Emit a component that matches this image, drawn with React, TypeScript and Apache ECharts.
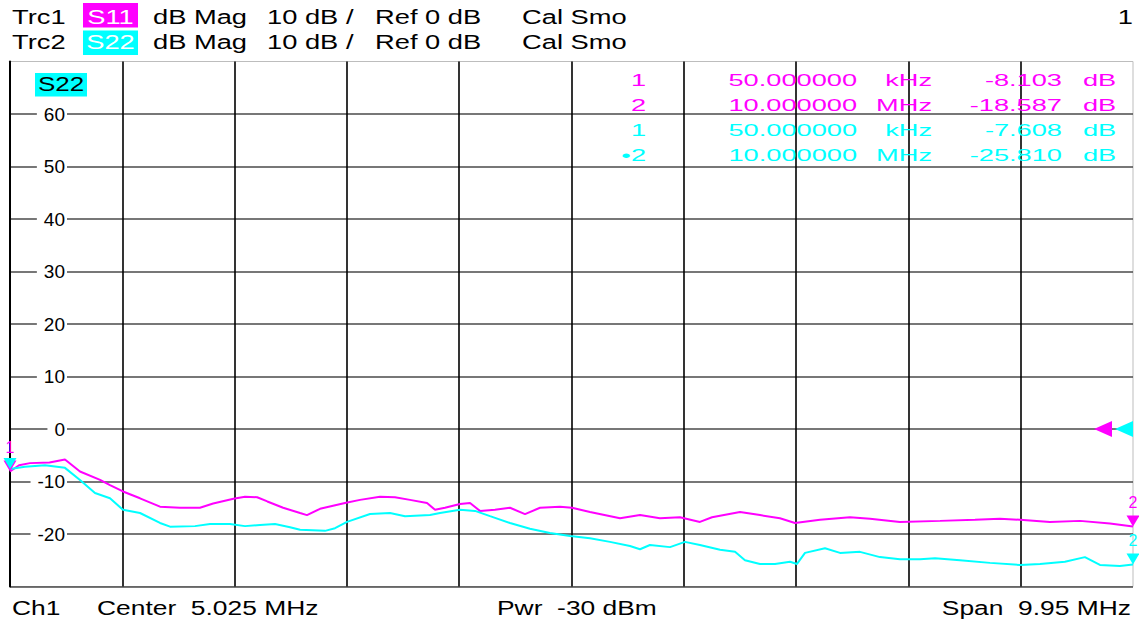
import React, { useEffect, useRef } from 'react';
import * as echarts from 'echarts';

const FONT = '"Liberation Sans", Arial, sans-serif';
const MAGENTA = '#ff00ff';
const CYAN = '#00ffff';

// Frequency axis (MHz) and level axis (dB)
const FREQ_MIN = 0.05;
const FREQ_MAX = 10;
const DB_MIN = -30;
const DB_MAX = 70;
const DB_STEP = 10;
const DIVISIONS = 10;

// Trace values: [frequency MHz, level dB]
const s11Trace: number[][] = [
  [0.05, -8.1], [0.13, -6.9], [0.227, -6.5], [0.4, -6.4], [0.537, -5.8], [0.67, -8.1], [0.848, -9.7],
  [0.936, -10.7], [1.051, -11.9], [1.202, -13.2], [1.379, -14.8], [1.556, -15], [1.733, -15],
  [1.85, -14.2], [2.03, -13.3], [2.132, -12.9], [2.24, -13], [2.33, -13.8], [2.47, -15],
  [2.62, -16], [2.681, -16.4], [2.797, -15.2], [3.018, -14.1], [3.151, -13.5], [3.328, -12.9],
  [3.461, -13], [3.594, -13.5], [3.745, -14.1], [3.816, -15.4], [3.904, -15], [4.037, -14.3],
  [4.126, -14.1], [4.214, -15.6], [4.347, -15.4], [4.48, -15], [4.613, -16.2], [4.746, -15],
  [4.923, -14.8], [5.029, -15], [5.189, -15.8], [5.455, -17], [5.632, -16.4], [5.809, -17],
  [5.986, -16.8], [6.163, -17.7], [6.27, -16.8], [6.518, -15.8], [6.695, -16.4], [6.872, -17],
  [7.005, -17.9], [7.227, -17.3], [7.492, -16.8], [7.67, -17.1], [7.935, -17.7], [8.29, -17.5],
  [8.6, -17.3], [8.821, -17.1], [8.999, -17.3], [9.264, -17.7], [9.53, -17.5], [9.796, -18],
  [10, -18.587],
];

const s22Trace: number[][] = [
  [0.05, -7.608], [0.183, -7.2], [0.36, -6.9], [0.537, -7.4], [0.67, -9.7], [0.803, -12.2],
  [0.936, -13.2], [1.051, -15.4], [1.202, -16], [1.379, -17.9], [1.468, -18.6], [1.689, -18.5],
  [1.822, -18.1], [1.999, -18.1], [2.132, -18.5], [2.265, -18.3], [2.398, -18.1], [2.531, -18.7],
  [2.62, -19.2], [2.841, -19.4], [2.93, -18.9], [3.036, -17.7], [3.24, -16.2], [3.417, -16],
  [3.55, -16.6], [3.771, -16.4], [3.86, -16], [4.037, -15.4], [4.17, -15.6], [4.303, -16.6],
  [4.48, -17.9], [4.657, -19], [4.834, -19.8], [5.012, -20.4], [5.189, -20.8], [5.366, -21.5],
  [5.543, -22.3], [5.632, -22.9], [5.72, -22.1], [5.898, -22.5], [6.03, -21.5], [6.163, -22.1],
  [6.341, -23], [6.474, -23.4], [6.562, -25], [6.695, -25.7], [6.828, -25.7], [6.961, -25.3],
  [7.023, -25.7], [7.094, -23.6], [7.271, -22.7], [7.404, -23.6], [7.581, -23.4], [7.758, -24.4],
  [7.935, -24.8], [8.113, -24.8], [8.246, -24.6], [8.467, -25], [8.733, -25.5], [8.999, -25.9],
  [9.176, -25.7], [9.397, -25.3], [9.574, -24.4], [9.707, -25.9], [9.884, -26.1], [10, -25.81],
];

// Markers
const markerNames = ['1', '2'];
const markerFreqs = [0.05, 10];
const s11MarkerDb = [-8.103, -18.587];
const s22MarkerDb = [-7.608, -25.81];
const refLevel = 0;

// Header / footer texts
const traceNames = ['Trc1', 'Trc2'];
const paramNames = ['S11', 'S22'];
const traceColors = [MAGENTA, CYAN];
const formatTexts = ['dB Mag', '10 dB /', 'Ref 0 dB', 'Cal Smo'];
const footerTexts = ['Ch1', 'Center  5.025 MHz', 'Pwr  -30 dBm', 'Span  9.95 MHz'];

function fmtFreq(mhz: number) {
  if (mhz < 1) return { v: (mhz * 1000).toFixed(6), u: 'kHz' };
  return { v: mhz.toFixed(6), u: 'MHz' };
}

function txt(x: number, y: number, text: string, size: number, sx: number, fill: string, align = 'left') {
  return {
    type: 'text',
    x,
    y,
    scaleX: sx,
    z: 10,
    style: {
      text,
      font: `${size}px ${FONT}`,
      fill,
      textAlign: align,
      textVerticalAlign: 'middle',
    },
  };
}

export default function App() {
  const ref = useRef<HTMLDivElement>(null);

  useEffect(() => {
    document.body.style.margin = '0';
    if (!ref.current) return;
    const chart = echarts.init(ref.current, undefined, { renderer: 'svg' });

    const graphics: any[] = [];
    // Header rows
    const rowY = [17, 42];
    const boxY = [3, 30.5];
    const chunkX = [153, 267, 375, 522];
    for (let i = 0; i < 2; i++) {
      graphics.push(txt(12, rowY[i], traceNames[i], 21, 1.3, '#000'));
      graphics.push({
        type: 'rect', z: 9,
        shape: { x: 83, y: boxY[i], width: 55, height: 24.5 },
        style: { fill: traceColors[i] },
      });
      graphics.push(txt(110.5, rowY[i], paramNames[i], 21, 1.3, '#fff', 'center'));
      formatTexts.forEach((t, k) => graphics.push(txt(chunkX[k], rowY[i], t, 21, 1.3, '#000')));
    }
    graphics.push(txt(1133, 17, '1', 21, 1.3, '#000', 'right'));

    // Active trace label inside the diagram
    graphics.push({
      type: 'rect', z: 9,
      shape: { x: 35, y: 73, width: 52, height: 23.5 },
      style: { fill: CYAN },
    });
    graphics.push(txt(61, 84.5, paramNames[1], 20, 1.3, '#000', 'center'));

    // Marker table
    const tableRows: { name: string; f: number; db: number; color: string }[] = [];
    markerNames.forEach((n, i) => tableRows.push({ name: n, f: markerFreqs[i], db: s11MarkerDb[i], color: MAGENTA }));
    markerNames.forEach((n, i) => tableRows.push({ name: (i === 1 ? '\u2022' : '') + n, f: markerFreqs[i], db: s22MarkerDb[i], color: CYAN }));
    tableRows.forEach((r, i) => {
      const y = 80 + i * 25;
      const f = fmtFreq(r.f);
      graphics.push(txt(646, y, r.name, 17, 1.6, r.color, 'right'));
      graphics.push(txt(857, y, f.v, 17, 1.6, r.color, 'right'));
      graphics.push(txt(932, y, f.u, 17, 1.6, r.color, 'right'));
      graphics.push(txt(1062, y, r.db.toFixed(3), 17, 1.6, r.color, 'right'));
      graphics.push(txt(1083, y, 'dB', 17, 1.6, r.color, 'left'));
    });

    // Footer
    graphics.push(txt(12, 608, footerTexts[0], 20, 1.32, '#000'));
    graphics.push(txt(97, 608, footerTexts[1], 20, 1.32, '#000'));
    graphics.push(txt(497, 608, footerTexts[2], 20, 1.32, '#000'));
    graphics.push(txt(1131, 608, footerTexts[3], 20, 1.32, '#000', 'right'));

    const downTri = 'path://M0,0 L12,0 L6,10 Z';
    const leftTri = 'path://M18,0 L18,16 L0,8 Z';

    const markerData = (vals: number[], color: string, showFirstLabel: boolean) =>
      markerNames.map((n, i) => ({
        name: n,
        coord: [markerFreqs[i], vals[i]],
        symbol: downTri,
        symbolSize: [13, 11],
        symbolOffset: [0, -5.5],
        itemStyle: { color },
        label: {
          show: i === 0 ? showFirstLabel : true,
          formatter: n,
          position: 'top',
          distance: 5,
          color,
          fontSize: 16,
          fontFamily: FONT,
        },
      }));

    chart.setOption({
      animation: false,
      textStyle: { fontFamily: FONT },
      grid: {
        left: 10, right: 6, top: 61.5, bottom: 35.5,
        show: true, borderColor: '#bdbdbd', borderWidth: 1, backgroundColor: 'transparent',
      },
      graphic: graphics,
      xAxis: [
        {
          type: 'value', min: 0, max: DIVISIONS, interval: 1,
          axisLabel: { show: false }, axisTick: { show: false }, axisLine: { show: false },
          splitLine: { show: true, showMaxLine: false, lineStyle: { color: '#000', width: 1.6 } },
        },
        {
          type: 'value', min: FREQ_MIN, max: FREQ_MAX, show: false,
          splitLine: { show: false },
        },
      ],
      yAxis: {
        type: 'value', min: DB_MIN, max: DB_MAX, interval: DB_STEP,
        axisLine: { show: true, lineStyle: { color: '#000', width: 2 } },
        axisTick: { show: false },
        axisLabel: {
          inside: true, margin: 57, align: 'right',
          showMinLabel: false, showMaxLabel: false,
          color: '#000', fontSize: 19, fontFamily: FONT,
          backgroundColor: '#fff', padding: [2, 2, 2, 7],
        },
        splitLine: { show: true, showMaxLine: false, lineStyle: { color: '#4a4a4a', width: 1.6 } },
      },
      series: [
        {
          type: 'line', name: 'S11', xAxisIndex: 1, data: s11Trace, showSymbol: false,
          lineStyle: { color: MAGENTA, width: 2 }, itemStyle: { color: MAGENTA },
          clip: false, z: 3,
          markPoint: {
            silent: true,
            data: [
              ...markerData(s11MarkerDb, MAGENTA, true),
              {
                name: 'ref', coord: [FREQ_MAX, refLevel], symbol: leftTri, symbolSize: [18, 16],
                symbolOffset: [-30, 0], itemStyle: { color: MAGENTA }, label: { show: false },
              },
            ],
          },
        },
        {
          type: 'line', name: 'S22', xAxisIndex: 1, data: s22Trace, showSymbol: false,
          lineStyle: { color: CYAN, width: 2 }, itemStyle: { color: CYAN },
          clip: false, z: 4,
          markPoint: {
            silent: true,
            data: [
              ...markerData(s22MarkerDb, CYAN, false),
              {
                name: 'ref', coord: [FREQ_MAX, refLevel], symbol: leftTri, symbolSize: [18, 16],
                symbolOffset: [-9, 0], itemStyle: { color: CYAN }, label: { show: false },
              },
            ],
          },
        },
      ],
    });

    return () => chart.dispose();
  }, []);

  return <div ref={ref} style={{ width: 1139, height: 622 }} />;
}
